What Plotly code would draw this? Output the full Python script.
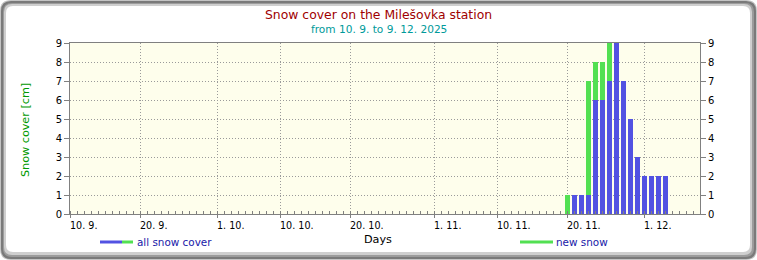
import plotly.graph_objects as go

# ---- data ----
dates = ["2025-11-20", "2025-11-21", "2025-11-22", "2025-11-23", "2025-11-24",
         "2025-11-25", "2025-11-26", "2025-11-27", "2025-11-28", "2025-11-29",
         "2025-11-30", "2025-12-01", "2025-12-02", "2025-12-03", "2025-12-04"]
total_cm = [1, 1, 1, 7, 8, 8, 9, 9, 7, 5, 3, 2, 2, 2, 2]
new_cm = [1, 0, 0, 6, 2, 2, 2, 0, 0, 0, 0, 0, 0, 0, 0]
tick_dates = ["2025-09-10", "2025-09-20", "2025-10-01", "2025-10-10", "2025-10-20",
              "2025-11-01", "2025-11-10", "2025-11-20", "2025-12-01"]
tick_labels = ["10. 9.", "20. 9.", "1. 10.", "10. 10.", "20. 10.",
               "1. 11.", "10. 11.", "20. 11.", "1. 12."]
y_ticks = list(range(0, 10))
x_range = ["2025-09-10", "2025-12-09"]

old_cm = [t - n for t, n in zip(total_cm, new_cm)]

# ---- layout geometry (pixels) ----
W, H = 757, 260
L, R, T, B = 70, 700, 43, 214
PW, PH = R - L, B - T


def px(x):
    return (x - L) / PW


def py(y):
    return (B - y) / PH


def rrect(x0, y0, x1, y1, r):
    # rounded rectangle path in paper coords from pixel coords
    X = lambda v: f"{px(v):.5f}"
    Y = lambda v: f"{py(v):.5f}"
    return (f"M {X(x0 + r)},{Y(y0)} L {X(x1 - r)},{Y(y0)} Q {X(x1)},{Y(y0)} {X(x1)},{Y(y0 + r)} "
            f"L {X(x1)},{Y(y1 - r)} Q {X(x1)},{Y(y1)} {X(x1 - r)},{Y(y1)} "
            f"L {X(x0 + r)},{Y(y1)} Q {X(x0)},{Y(y1)} {X(x0)},{Y(y1 - r)} "
            f"L {X(x0)},{Y(y0 + r)} Q {X(x0)},{Y(y0)} {X(x0 + r)},{Y(y0)} Z")


BLUE = "#5252e2"
GREEN = "#52e052"
FONT = "DejaVu Sans"
GRID = "#9a9a9a"

fig = go.Figure()
fig.add_trace(go.Bar(x=dates, y=old_cm, marker=dict(color=BLUE, line=dict(width=0)),
                     showlegend=False, hoverinfo="skip"))
fig.add_trace(go.Bar(x=dates, y=new_cm, marker=dict(color=GREEN, line=dict(width=0)),
                     showlegend=False, hoverinfo="skip"))
fig.add_trace(go.Scatter(x=dates, y=total_cm, yaxis="y2", mode="markers",
                         marker=dict(opacity=0), showlegend=False, hoverinfo="skip"))

shapes = [
    dict(type="path", path=rrect(0, 0, 757, 260, 11), xref="paper", yref="paper",
         fillcolor="#c4c4c4", line=dict(width=0), layer="below"),
    dict(type="path", path=rrect(1, 1, 756, 259, 10), xref="paper", yref="paper",
         fillcolor="#7a7a7a", line=dict(width=0), layer="below"),
    dict(type="path", path=rrect(3, 3, 754, 257, 9), xref="paper", yref="paper",
         fillcolor="#9c9c9c", line=dict(width=0), layer="below"),
    dict(type="path", path=rrect(4, 4, 752, 255, 8), xref="paper", yref="paper",
         fillcolor="#cfcfcf", line=dict(width=0), layer="below"),
    dict(type="path", path=rrect(6, 6, 750, 252, 7), xref="paper", yref="paper",
         fillcolor="#ffffff", line=dict(width=0), layer="below"),
    dict(type="rect", x0=0, x1=1, y0=0, y1=1, xref="paper", yref="paper",
         fillcolor="#fefeec", line=dict(width=0), layer="below"),
    # legend swatches
    dict(type="line", x0=px(100), x1=px(122), y0=py(242), y1=py(242), xref="paper", yref="paper",
         line=dict(color=BLUE, width=3)),
    dict(type="line", x0=px(122), x1=px(133), y0=py(242), y1=py(242), xref="paper", yref="paper",
         line=dict(color=GREEN, width=3)),
    dict(type="line", x0=px(520), x1=px(553), y0=py(242), y1=py(242), xref="paper", yref="paper",
         line=dict(color=GREEN, width=3)),
]

annotations = [
    dict(text="Snow cover on the Milešovka station", x=px(378.5), y=py(14), xref="paper", yref="paper",
         showarrow=False, xanchor="center", yanchor="middle",
         font=dict(family=FONT, size=12.4, color="#a00000")),
    dict(text="from 10. 9. to 9. 12. 2025", x=px(378.5), y=py(29.5), xref="paper", yref="paper",
         showarrow=False, xanchor="center", yanchor="middle",
         font=dict(family=FONT, size=10.6, color="#009a9a")),
    dict(text="Snow cover [cm]", x=px(25), y=py(130), xref="paper", yref="paper", textangle=-90,
         showarrow=False, xanchor="center", yanchor="middle",
         font=dict(family=FONT, size=11.2, color="#009900")),
    dict(text="Days", x=px(378), y=py(239), xref="paper", yref="paper",
         showarrow=False, xanchor="center", yanchor="middle",
         font=dict(family=FONT, size=11.2, color="#000000")),
    dict(text="all snow cover", x=px(135), y=py(242), xref="paper", yref="paper",
         showarrow=False, xanchor="left", yanchor="middle",
         font=dict(family=FONT, size=10.4, color="#1818a8")),
    dict(text="new snow", x=px(554), y=py(242), xref="paper", yref="paper",
         showarrow=False, xanchor="left", yanchor="middle",
         font=dict(family=FONT, size=10.4, color="#1818a8")),
]
for d, lab in zip(tick_dates, tick_labels):
    annotations.append(dict(text=lab, x=d, y=py(225), xref="x", yref="paper",
                            showarrow=False, xanchor="left", yanchor="middle", xshift=-2,
                            font=dict(family=FONT, size=9.6, color="#000000")))

fig.update_layout(
    width=W, height=H, autosize=False,
    margin=dict(l=L, r=W - R, t=T, b=H - B, pad=0),
    paper_bgcolor="#ffffff", plot_bgcolor="rgba(0,0,0,0)",
    barmode="stack", bargap=2 / 7,
    showlegend=False,
    shapes=shapes, annotations=annotations,
    xaxis=dict(type="date", range=x_range, tickvals=tick_dates, showticklabels=False,
               ticks="outside", ticklen=3, tickcolor="#808080",
               showgrid=True, gridcolor=GRID, griddash="1px,2px", gridwidth=1,
               showline=True, linecolor="#808080", linewidth=1, mirror=True,
               zeroline=False, fixedrange=True,
               minor=dict(dtick=86400000, tick0="2025-09-10", ticks="inside", ticklen=3,
                          tickcolor="#808080", showgrid=False)),
    yaxis=dict(range=[0, 9], tickvals=y_ticks, ticks="outside", ticklen=5, tickcolor="#808080",
               showgrid=True, gridcolor=GRID, griddash="1px,2px", gridwidth=1,
               showline=True, linecolor="#808080", linewidth=1, mirror="ticks",
               zeroline=False, tickfont=dict(family=FONT, size=10, color="#000000")),
    yaxis2=dict(range=[0, 9], tickvals=y_ticks, overlaying="y", side="right", anchor="x",
                ticks="outside", ticklen=5, tickcolor="rgba(0,0,0,0)",
                showgrid=False, showline=False, zeroline=False,
                tickfont=dict(family=FONT, size=10, color="#000000")),
)

fig.write_html("out.html")
